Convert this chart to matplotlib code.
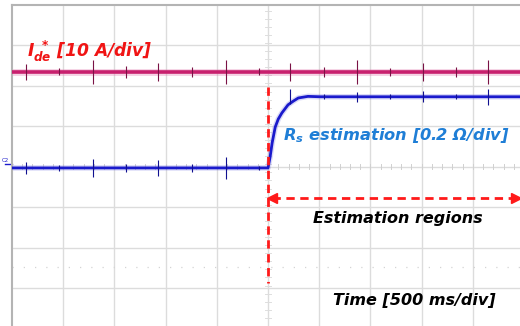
import numpy as np
import matplotlib.pyplot as plt

plt.rcParams['mathtext.fontset'] = 'custom'
plt.rcParams['mathtext.it'] = 'DejaVu Sans:italic:bold'
plt.rcParams['mathtext.rm'] = 'DejaVu Sans:italic:bold'

# scope screen in divisions (x: time div, y: vertical div, 0 = centre line)
ide_level = 2.35
rs_low = -0.03
rs_high = 1.73

# Rs estimate rise after the step
rise_x = [5.0, 5.04, 5.08, 5.14, 5.20, 5.27, 5.39, 5.49, 5.59, 5.78, 6.02]
rise_y = [-0.03, 0.24, 0.59, 0.98, 1.18, 1.33, 1.53, 1.62, 1.70, 1.74, 1.73]

# switching spikes on the traces
spike_x = [0.27, 0.92, 1.58, 2.23, 2.85, 3.52, 4.17, 4.82, 5.43, 6.09, 6.74, 7.38, 8.03, 8.67, 9.30]
ide_spike = [0.2, 0.08, 0.3, 0.15, 0.22, 0.12, 0.3, 0.08, 0.22, 0.12, 0.3, 0.1, 0.22, 0.12, 0.3]
rs_spike = [0.15, 0.08, 0.22, 0.1, 0.2, 0.1, 0.28, 0.05, 0.18, 0.06, 0.12, 0.06, 0.14, 0.06, 0.2]

x_right = 9.92
y_bottom = -3.94
step_x = 5.0

fig = plt.figure(figsize=(5.2, 3.26), dpi=100)
ax = fig.add_axes([12 / 520, 0, 508 / 520, 321 / 326])
ax.set_xlim(0, x_right)
ax.set_ylim(y_bottom, 4)
ax.set_xticks([])
ax.set_yticks([])
for s in ['right', 'bottom']:
    ax.spines[s].set_visible(False)
for s in ['left', 'top']:
    ax.spines[s].set_color('#b4b4b4')
    ax.spines[s].set_linewidth(1.5)

# graticule
for gx in range(1, 10):
    ax.axvline(gx, color='#dcdcdc', lw=1, zorder=0)
for gy in [-3, -2, -1, 0, 1, 2, 3]:
    ax.axhline(gy, color='#dcdcdc', lw=1, zorder=0)
for t in np.arange(0, x_right, 0.2):
    ax.plot([t, t], [-0.06, 0.06], color='#d0d0d0', lw=0.7, zorder=0)
for t in np.arange(y_bottom, 4, 0.2):
    ax.plot([4.95, 5.05], [t, t], color='#dedede', lw=0.7, zorder=0)
ax.axhline(-2.47, color='#d4d4d4', lw=0.9, ls=(0, (1, 8)), zorder=0)

# Ide* trace
ax.plot([0, x_right], [ide_level, ide_level], color='#e070a8', lw=5, alpha=0.3, zorder=2)
ax.plot([0, x_right], [ide_level, ide_level], color='#c8206e', lw=2.6, zorder=3)
ax.vlines(spike_x, [ide_level - a for a in ide_spike], [ide_level + a for a in ide_spike],
          color='#7a1245', lw=0.8, zorder=4)

# Rs estimation trace
bx = [0, step_x] + rise_x + [x_right]
by = [rs_low, rs_low] + rise_y + [rs_high]
ax.plot(bx, by, color='#6a6ae0', lw=4, alpha=0.25, zorder=2)
ax.plot(bx, by, color='#1a1acc', lw=2, zorder=3)
rs_base = [rs_low if x < step_x else rs_high for x in spike_x]
ax.vlines(spike_x, [b - a for b, a in zip(rs_base, rs_spike)], [b + a for b, a in zip(rs_base, rs_spike)],
          color='#101090', lw=0.8, zorder=4)

# C2 marker
ax.text(-0.2, 0.12, 'C2', color='#1a1acc', fontsize=4, clip_on=False)
ax.plot([-0.14, 0], [0.06, 0.06], color='#1a1acc', lw=1, clip_on=False)

# step marker and estimation region
ax.plot([step_x, step_x], [1.97, -2.88], color='#ff1a1a', lw=2, ls=(0, (3, 2)), zorder=5)
ax.plot([step_x + 0.08, x_right - 0.08], [-0.78, -0.78], color='#ff1a1a', lw=2, ls=(0, (3, 2)), zorder=5)
ax.plot([step_x + 0.08], [-0.78], marker='<', color='#ff1a1a', ms=7, zorder=5)
ax.plot([x_right - 0.08], [-0.78], marker='>', color='#ff1a1a', ms=7, zorder=5, clip_on=False)

fnt = dict(family='DejaVu Sans', fontweight='bold', fontstyle='italic')
ax.text(0.29, 2.71, r'$I_{de}^{\ *}$ [10 A/div]', color='#f01414', fontsize=12.3, **fnt)
ax.text(5.29, 0.66, r'$R_{s}$ estimation [0.2 Ω/div]', color='#1f7ed6', fontsize=11.7, **fnt)
ax.text(5.88, -1.39, 'Estimation regions', color='black', fontsize=11.5, **fnt)
ax.text(6.27, -3.42, 'Time [500 ms/div]', color='black', fontsize=11.5, **fnt)

fig.savefig('out.png', dpi=100)
